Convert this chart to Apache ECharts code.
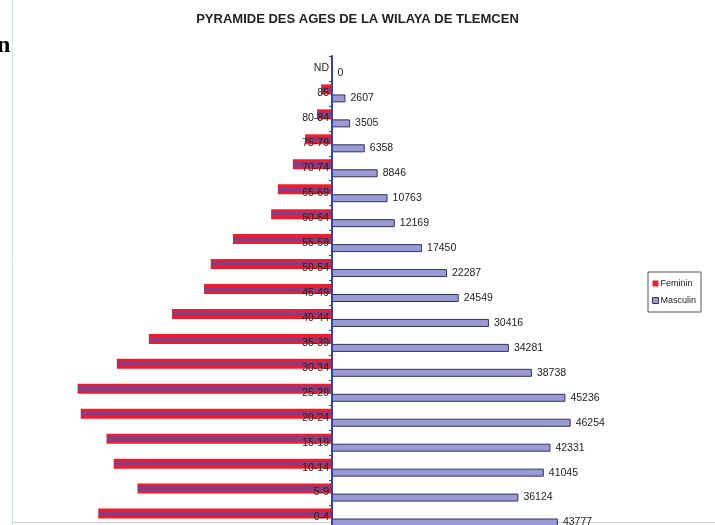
<!DOCTYPE html>
<html><head><meta charset="utf-8">
<script src="https://cdn.jsdelivr.net/npm/echarts@6/dist/echarts.min.js"></script>
<style>html,body{margin:0;padding:0;background:#fff;overflow:hidden}#c{width:715px;height:540px}</style>
</head><body><div id="c"></div>
<script>
const categories = ['ND','85','80-84','75-79','70-74','65-69','60-64','55-59','50-54','45-49','40-44','35-39','30-34','25-29','20-24','15-19','10-14','5-9','0-4'];
const masculin = [0,2607,3505,6358,8846,10763,12169,17450,22287,24549,30416,34281,38738,45236,46254,42331,41045,36124,43777];
const feminin = [150,2100,2900,5200,7600,10500,11800,19200,23500,24800,31000,35500,41700,49300,48700,43700,42300,37700,45300];
const FONT = '"Liberation Sans Narrow","Arial Narrow","Liberation Sans",sans-serif';
const RED = '#ee1c2c', PURPLE = '#8e3a7c';

const femGrad = new echarts.graphic.LinearGradient(0,0,0,1,[
  {offset:0,color:RED},{offset:0.27,color:RED},{offset:0.27,color:PURPLE},
  {offset:0.73,color:PURPLE},{offset:0.73,color:RED},{offset:1,color:RED}]);

const chart = echarts.init(document.getElementById('c'), null, {renderer:'canvas'});
chart.setOption({
  animation:false,
  backgroundColor:'#fff',
  title:{text:'PYRAMIDE DES AGES DE LA WILAYA DE TLEMCEN', left:'center', top:8,
    textStyle:{fontFamily:FONT, fontSize:13, fontWeight:'bold', color:'#222'}},
  legend:{orient:'vertical', left:648, top:272, padding:[7,5,7,4], itemGap:8,
    borderColor:'#555', borderWidth:1, itemWidth:6, itemHeight:6, icon:'rect',
    textStyle:{fontFamily:FONT, fontSize:9, color:'#222', padding:[0,0,0,-3]},
    data:[{name:'Feminin', itemStyle:{color:RED, borderWidth:0}},
          {name:'Masculin', itemStyle:{color:'#9a9ad6', borderColor:'#333355', borderWidth:1}}]},
  grid:{left:74, width:516, top:56, height:474, containLabel:false},
  xAxis:{type:'value', min:-50000, max:50000, show:false},
  yAxis:{type:'category', data:categories, inverse:true, z:10, position:'left', offset:-258,
    axisLine:{onZero:false, lineStyle:{color:'#3344aa', width:2}},
    axisTick:{show:true, length:3, lineStyle:{color:'#3344aa'}},
    axisLabel:{fontFamily:FONT, fontSize:10.5, color:'#222', margin:3}},
  series:[
    {name:'Feminin', type:'bar', data:feminin.map(v=>-v), barWidth:10, barGap:'0%',
      itemStyle:{color:femGrad}},
    {name:'Masculin', type:'bar', data:masculin, barWidth:8,
      itemStyle:{color:'#9a9ad6', borderColor:'#333355', borderWidth:1},
      label:{show:true, position:'right', distance:5, fontFamily:FONT, fontSize:10.5, color:'#222'}}
  ],
  graphic:[
    {type:'line', shape:{x1:12.5,y1:0,x2:12.5,y2:525}, style:{stroke:'#dde3ee', lineWidth:1}, silent:true},
    {type:'line', shape:{x1:12,y1:522.5,x2:715,y2:522.5}, style:{stroke:'#cccccc', lineWidth:1}, silent:true},
    {type:'text', left:-3, top:34, style:{text:'n', font:'bold 24px "Liberation Serif",serif', fill:'#000'}}
  ]
});
</script></body></html>
